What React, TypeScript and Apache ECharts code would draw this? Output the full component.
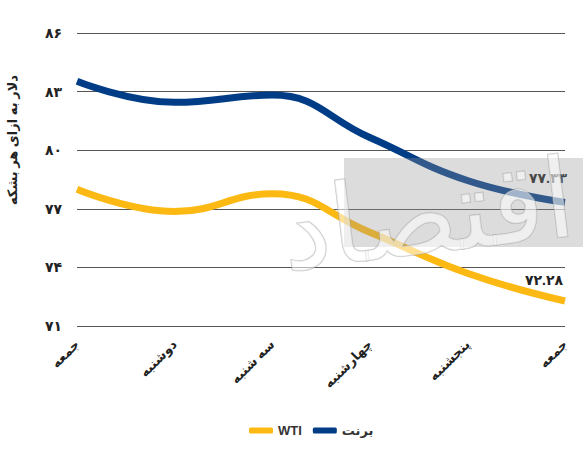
import React, { useEffect, useRef } from "react";
import * as echarts from "echarts";

const categories = ["جمعه", "دوشنبه", "سه شنبه", "چهارشنبه", "پنجشنبه", "جمعه"];
const brentValues = [83.53, 82.45, 82.82, 80.65, 78.45, 77.33];
const wtiValues = [78.0, 76.86, 77.77, 75.8, 73.7, 72.28];
const yMin = 71;
const yMax = 86;
const yStep = 3;
const seriesNames = ["WTI", "برنت"];
const yAxisTitle = "دلار به ازای هر بشکه";
const watermark = "اقتصاد";

const faDigits = "۰۱۲۳۴۵۶۷۸۹";
const toFa = (s: string) => s.replace(/[0-9]/g, (d) => faDigits[Number(d)]);

const FONT = "'Liberation Sans', 'DejaVu Sans', sans-serif";

export default function App() {
  const ref = useRef<HTMLDivElement>(null);
  useEffect(() => {
    document.body.style.margin = "0";
    if (!ref.current) return;
    const chart = echarts.init(ref.current, undefined, { renderer: "svg" });
    const shift = (arr: number[]) => arr.map((v) => +(v - yMin).toFixed(3));
    const lastBrent = brentValues[brentValues.length - 1];
    const lastWti = wtiValues[wtiValues.length - 1];
    chart.setOption({
      animation: false,
      textStyle: { fontFamily: FONT },
      grid: { left: 77, right: 18, top: 33, bottom: 129 },
      legend: {
        bottom: 13,
        left: 244,
        icon: "roundRect",
        itemWidth: 24,
        itemHeight: 6,
        itemGap: 11,
        textStyle: { fontFamily: FONT, fontWeight: "bold", fontSize: 13, color: "#333" },
        data: [seriesNames[0], seriesNames[1]],
      },
      xAxis: {
        type: "category",
        data: categories,
        boundaryGap: false,
        axisLine: { show: false },
        axisTick: { show: false },
        axisLabel: {
          rotate: 45,
          margin: 16,
          interval: 0,
          fontFamily: FONT,
          fontWeight: "bold",
          fontSize: 13,
          color: "#222",
        },
      },
      yAxis: {
        type: "value",
        min: 0,
        max: yMax - yMin,
        interval: yStep,
        axisLine: { show: false },
        axisTick: { show: false },
        splitLine: { lineStyle: { color: "#555", width: 1 } },
        axisLabel: {
          margin: 15,
          fontFamily: FONT,
          fontWeight: "bold",
          fontSize: 14,
          color: "#222",
          formatter: (v: number) => toFa(String(v + yMin)),
        },
      },
      series: [
        {
          name: seriesNames[1],
          type: "line",
          smooth: 0.45,
          symbol: "none",
          data: shift(brentValues),
          lineStyle: { color: "#003d86", width: 7 },
          itemStyle: { color: "#003d86" },
          endLabel: {
            show: true,
            distance: 0,
            align: "right",
            verticalAlign: "bottom",
            offset: [2, -17],
            formatter: () => toFa(lastBrent.toFixed(2)),
            fontFamily: FONT,
            fontWeight: "bold",
            fontSize: 14,
            color: "#222",
          },
          z: 3,
        },
        {
          name: seriesNames[0],
          type: "line",
          smooth: 0.45,
          symbol: "none",
          data: shift(wtiValues),
          lineStyle: { color: "#fdb913", width: 7 },
          itemStyle: { color: "#fdb913" },
          endLabel: {
            show: true,
            distance: 0,
            align: "right",
            verticalAlign: "bottom",
            offset: [-2, -14],
            formatter: () => toFa(lastWti.toFixed(2)),
            fontFamily: FONT,
            fontWeight: "bold",
            fontSize: 14,
            color: "#222",
          },
          z: 3,
        },
      ],
      graphic: [
        {
          type: "text",
          left: 6,
          top: 75,
          rotation: Math.PI / 2,
          style: {
            text: yAxisTitle,
            fontFamily: FONT,
            fontWeight: "bold",
            fontSize: 13,
            fill: "#222",
          },
        },
        {
          type: "rect",
          shape: { x: 344, y: 158, width: 239, height: 89 },
          style: { fill: "rgba(150,150,150,0.33)" },
          z: 50,
          silent: true,
        },
        {
          type: "text",
          x: 580,
          y: 252,
          rotation: 0.12,
          style: {
            text: watermark,
            fontFamily: "'DejaVu Sans', sans-serif",
            fontSize: 110,
            align: "right",
            verticalAlign: "bottom",
            fill: "rgba(255,255,255,0.55)",
            stroke: "rgba(160,160,160,0.55)",
            lineWidth: 1.5,
          },
          z: 51,
          silent: true,
        },
      ],
    });
    return () => chart.dispose();
  }, []);
  return <div ref={ref} style={{ width: 583, height: 455 }} />;
}
